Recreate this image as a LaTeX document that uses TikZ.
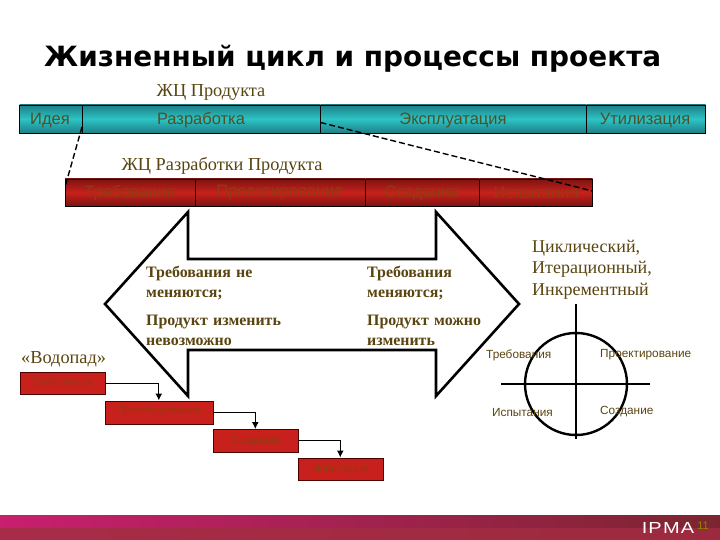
\documentclass[tikz,border=0pt]{standalone}
\usepackage{fontspec}
\setmainfont{Liberation Serif}
\setsansfont{Liberation Sans}
\newfontfamily\titlefont{DejaVu Sans}
\newfontfamily\ipmafont[LetterSpace=6]{Liberation Sans}
\usetikzlibrary{arrows.meta}
\definecolor{txtbrown}{HTML}{5A4510}
\definecolor{dimtxt}{HTML}{8F3C10}
\definecolor{tealmid}{HTML}{2CC4C4}
\definecolor{tealdark}{HTML}{1E7F88}
\definecolor{redmid}{HTML}{C8201C}
\definecolor{reddark}{HTML}{7E1412}
\definecolor{bandA}{HTML}{C81F6E}
\definecolor{bandB}{HTML}{C91E62}
\definecolor{bandC}{HTML}{7C2530}
\definecolor{bandD}{HTML}{A82C48}
\definecolor{bandE}{HTML}{9C2A3E}
\tikzset{x=1pt,y=-1pt,
  bluebar/.style={draw=black,line width=0.8pt,top color=tealdark,bottom color=tealdark,middle color=tealmid},
  redbar/.style={draw=black,line width=0.8pt,top color=reddark,bottom color=reddark,middle color=redmid},
  fallbox/.style={draw=black!70!red,line width=0.6pt,fill=redmid,text=dimtxt,font=\sffamily\fontsize{11}{13}\selectfont,inner sep=0pt,anchor=north west},
  barlabel/.style={font=\sffamily\fontsize{16.5}{18}\selectfont,text=txtbrown!80!tealdark},
  redlabel/.style={font=\sffamily\fontsize{16.5}{18}\selectfont,text=dimtxt},
  heading/.style={font=\fontsize{18.3}{21}\selectfont,text=txtbrown},
  cond/.style={font=\bfseries\fontsize{15.9}{19.5}\selectfont,text=txtbrown,align=left,anchor=north west,inner sep=0pt},
  quad/.style={font=\sffamily\fontsize{11.8}{13}\selectfont,text=txtbrown,inner sep=0pt},
  dashline/.style={black,line width=1.4pt,dash pattern=on 6pt off 3pt},
  fallarrow/.style={black,line width=1.2pt,-{Latex[length=7pt,width=7pt]}}
}
\begin{document}
\begin{tikzpicture}
\useasboundingbox (0,0) rectangle (720,540);
\fill[white] (0,0) rectangle (720,540);
% bottom band
\shade[left color=bandA,middle color=bandB,right color=bandC] (0,515) rectangle (720,528);
\shade[left color=bandD,right color=bandE] (0,528) rectangle (720,540);
\node[font=\ipmafont\fontsize{16}{18}\selectfont,text=white,inner sep=0pt,xscale=1.25] (ipma) at (668,527.5) {IPMA};
\node[font=\sffamily\fontsize{11}{12}\selectfont,text=olive,inner sep=0pt] (pg) at (703,526) {11};
% title
\node[font=\titlefont\bfseries\fontsize{27.9}{32}\selectfont,text=black,anchor=west,inner sep=0pt] (title) at (44,59) {Жизненный цикл и процессы проекта};
\node[heading] (h1) at (211,92) {ЖЦ Продукта};
\node[heading] (h2) at (222,166) {ЖЦ Разработки Продукта};
% big double arrow
\draw[black,line width=2.6pt,fill=white,line join=miter] (105,304) coordinate (ltip) -- (188,212) -- (188,259) -- (436,259) -- (436,212) -- (519,304) coordinate (rtip) -- (436,396) -- (436,350) -- (188,350) -- (188,396) -- cycle;
% blue bar
\path[bluebar] (19.5,105) rectangle (82,133);
\path[bluebar] (82,105) rectangle (320.5,133);
\path[bluebar] (320.5,105) rectangle (586.5,133);
\path[bluebar] (586.5,105) rectangle (705.5,133);
\node[barlabel] (b1) at (50,120) {Идея};
\node[barlabel] (b2) at (201,120) {Разработка};
\node[barlabel] (b3) at (453,120) {Эксплуатация};
\node[barlabel] (b4) at (645,120) {Утилизация};
% red bar
\path[redbar] (65,179) rectangle (195,206);
\path[redbar] (195,179) rectangle (365.5,206);
\path[redbar] (365.5,179) rectangle (479.5,206);
\path[redbar] (479.5,179) rectangle (592.5,206);
\node[redlabel] (r1) at (130,193) {Требования};
\node[redlabel] (r2) at (280,193) {Проектирование};
\node[redlabel] (r3) at (422,193) {Создание};
\node[redlabel] (r4) at (536,193) {Испытания};
% dashed zoom lines
\coordinate (d1a) at (82,127); \coordinate (d1b) at (65,187);
\coordinate (d2a) at (320.5,122.5); \coordinate (d2b) at (592.5,191);
\draw[dashline] (d1a) -- (d1b);
\draw[dashline] (d2a) -- (d2b);
% texts in arrow
\node[cond,text width=125pt] (c1) at (146,266) {Требования не\\меняются;};
\node[cond,text width=140pt] (c2) at (146,315) {Продукт изменить\\невозможно};
\node[cond,text width=110pt] (c3) at (367,266) {Требования\\меняются;};
\node[cond,text width=125pt] (c4) at (367,315) {Продукт можно\\изменить};
% cycle text
\node[font=\fontsize{18}{21.5}\selectfont,text=txtbrown,align=left,anchor=north west,inner sep=0pt] (cyc) at (532,239.5) {Циклический,\\Итерационный,\\Инкрементный};
\node[heading,anchor=west,inner sep=0pt] (wf) at (21,359) {«Водопад»};
% cycle diagram
\draw[black,line width=2.4pt] (576,384) circle[radius=51];
\coordinate (vt) at (576,304); \coordinate (vb) at (576,439);
\coordinate (hl) at (501,384); \coordinate (hr) at (650,384);
\draw[black,line width=1.8pt] (vt) -- (vb);
\draw[black,line width=1.8pt] (hl) -- (hr);
\node[quad,anchor=west] (q1) at (486,355) {Требования};
\node[quad,anchor=west] (q2) at (600,355) {Проектирование};
\node[quad,anchor=west] (q3) at (492,412) {Испытания};
\node[quad,anchor=west] (q4) at (600,412) {Создание};
% waterfall
\node[fallbox,minimum width=85pt,minimum height=22pt] (w1) at (19.5,372) {Требования};
\node[fallbox,minimum width=108pt,minimum height=23pt] (w2) at (104.5,400.5) {Проектирование};
\node[fallbox,minimum width=85pt,minimum height=22.5pt] (w3) at (212.5,429) {Создание};
\node[fallbox,minimum width=85pt,minimum height=22pt] (w4) at (297.5,457.5) {Испытания};
\draw[fallarrow] (w1.east) -| (w2.north);
\draw[fallarrow] (w2.east) -| (w3.north);
\draw[fallarrow] (w3.east) -| (w4.north);
\end{tikzpicture}
\end{document}
